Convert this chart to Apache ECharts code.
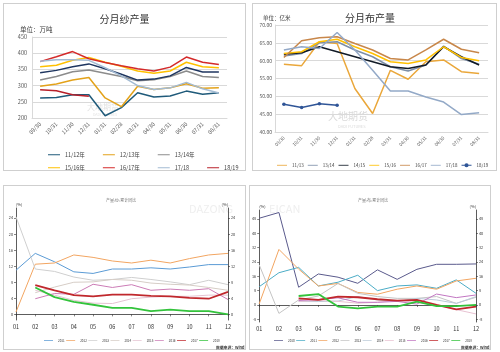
<!DOCTYPE html>
<html lang="zh">
<head>
<meta charset="UTF-8">
<title>纱布产量</title>
<script src="https://cdn.jsdelivr.net/npm/echarts@6/dist/echarts.min.js"></script>
<style>
    html, body { margin: 0; padding: 0; background: #fff; }
    body { width: 500px; height: 352px; position: relative; overflow: hidden; }
    .frame { position: absolute; border: 1px solid #cfcfcf; box-sizing: border-box; }
    .chart { position: absolute; }
    #f1, #c1 { left: 3px; top: 3px; width: 243px; height: 168px; }
    #f2, #c2 { left: 252px; top: 3px; width: 245px; height: 168px; }
    #f3, #c3 { left: 3px; top: 185px; width: 243px; height: 165px; }
    #f4, #c4 { left: 249px; top: 185px; width: 242px; height: 165px; }
</style>
</head>
<body>
<div class="frame" id="f1"></div>
<div class="frame" id="f2"></div>
<div class="frame" id="f3"></div>
<div class="frame" id="f4"></div>
<div class="chart" id="c1"></div>
<div class="chart" id="c2"></div>
<div class="chart" id="c3"></div>
<div class="chart" id="c4"></div>
<script>
    // ---------- 分月纱产量（万吨）----------
    var yarnMonths = ['09/30','10/31','11/30','12/31','01/31','02/28','03/31','04/30','05/31','06/30','07/31','08/31'];
    var yarnNames = ['11/12年','12/13年','13/14年','14/15年','15/16年','16/17年','17/18','18/19'];
    var yarn1112 = [262, 263, 272, 272, 207, 232, 278, 265, 268, 283, 273, 278];
    var yarn1213 = [298, 305, 317, 325, 262, 235, 298, 288, 293, 306, 292, 293];
    var yarn1314 = [317, 328, 343, 348, 338, 328, 315, 318, 328, 345, 328, 325];
    var yarn1415 = [340, 347, 358, 367, 352, 335, 317, 320, 330, 356, 342, 342];
    var yarn1516 = [358, 363, 378, 387, 372, 360, 345, 338, 345, 372, 358, 355];
    var yarn1617 = [374, 389, 405, 383, 371, 361, 352, 345, 357, 388, 372, 365];
    var yarn1718 = [375, 380, 380, 378, 355, 330, 300, 288, 293, 310, 290, 277];
    var yarn1819 = [287, 284, 272, 267];
    var yarnTicks = [200, 450, 50];

    // ---------- 分月布产量（亿米）----------
    var clothMonths = yarnMonths;
    var clothNames = ['11/13','13/14','14/15','15/16','16/17','17/18','18/19'];
    var cloth1113 = [59.0, 58.6, 65.3, 64.8, 52.2, 45.2, 57.3, 54.8, 59.7, 60.2, 56.9, 56.4];
    var cloth1314 = [61.3, 62.0, 65.0, 65.3, 63.0, 61.1, 58.3, 57.1, 58.8, 64.1, 60.6, 59.0];
    var cloth1415 = [61.8, 62.2, 63.9, 62.5, 61.1, 59.7, 58.3, 57.8, 58.8, 63.9, 61.1, 58.8];
    var cloth1516 = [62.0, 62.5, 65.3, 66.0, 63.9, 62.0, 59.7, 59.2, 60.2, 63.9, 60.9, 60.0];
    var cloth1617 = [60.9, 65.6, 66.4, 66.7, 64.8, 63.0, 60.6, 60.2, 63.0, 66.0, 63.2, 62.2];
    var cloth1718 = [63.0, 63.9, 63.4, 67.9, 63.0, 57.3, 51.5, 51.5, 49.8, 48.4, 44.9, 45.4];
    var cloth1819 = [47.8, 46.9, 47.9, 47.5];
    var clothTicks = [40, 70, 5];

    // ---------- 产量:纱:累计同比（%）----------
    var ytdMonths = ['01','02','03','04','05','06','07','08','09','10','11','12'];
    var yarnYoyNames = ['2011','2012','2013','2014','2015','2016','2017','2018'];
    var yoyY2011 = [11.0, 15.2, 13.1, 10.6, 10.2, 11.3, 11.3, 11.6, 11.3, 11.8, 12.4, 12.4];
    var yoyY2012 = [0.6, 12.5, 12.8, 14.8, 14.2, 13.3, 12.8, 13.5, 12.8, 13.9, 14.8, 15.2];
    var yoyY2013 = [24.3, 11.3, 10.7, 9.3, 8.5, 8.7, 9.2, 8.7, 8.1, 7.4, 8.5, 7.4];
    var yoyY2014 = [null, 5.4, 6.8, 8.0, 8.1, 8.7, 8.5, 7.8, 7.5, 7.3, 6.7, 6.0];
    var yoyY2015 = [null, 6.0, 4.8, 3.5, 2.8, 2.7, 3.9, 4.3, 4.5, 4.5, 4.8, 4.8];
    var yoyY2016 = [null, 3.9, 5.2, 5.0, 7.5, 6.7, 7.4, 6.0, 6.3, 6.0, 6.4, 3.7];
    var yoyY2017 = [null, 7.3, 6.0, 4.8, 4.5, 4.9, 4.9, 4.6, 4.5, 4.1, 3.9, 5.6];
    var yoyY2018 = [null, 6.7, 4.3, 3.1, 2.4, 1.6, 1.6, 0.8, 1.2, 0.8, 0.8, 0.0];
    var yarnYoyLabels = [0, 4, 8, 12, 16, 20, 24];

    // ---------- 产量:布:累计同比（%）----------
    var clothYoyNames = ['2010','2011','2012','2013','2014','2015','2016','2017','2018'];
    var yoyC2010 = [48.4, 51.6, 9.9, 17.3, 15.5, 12.1, 19.6, 14.3, 19.9, 22.7, 22.7, 22.9];
    var yoyC2011 = [10.2, 18.0, 21.0, 10.6, 12.7, 16.6, 8.0, 10.6, 11.2, 9.3, 14.0, 6.5];
    var yoyC2012 = [0.6, 31.0, 20.0, 10.6, 12.0, 7.0, 6.0, 8.8, 10.6, 8.8, 13.4, 14.9];
    var yoyC2013 = [22.4, -4.7, 2.8, 5.0, 12.0, 6.5, 4.7, 3.7, 3.7, 4.7, 0.9, 4.3];
    var yoyC2014 = [null, null, 1.9, 1.9, 2.2, 4.7, 2.8, 1.9, 3.7, 2.8, 0.9, 4.7];
    var yoyC2015 = [null, null, 2.0, 2.5, 2.0, 1.0, 1.5, 2.5, 1.5, 0.0, -2.6, -5.0];
    var yoyC2016 = [null, null, 2.5, 3.0, 4.0, 1.5, 1.5, 2.0, 0.5, 6.1, 4.1, 5.6];
    var yoyC2017 = [null, null, 3.7, 2.8, 4.7, 4.3, 3.2, 2.4, 2.8, 0.0, -2.4, -0.9];
    var yoyC2018 = [null, null, 5.0, 6.1, -0.9, -1.9, -0.9, -0.9, 1.9, -0.6, -0.6, 0.0];
    var clothYoyLabels = [-8, 0, 8, 16, 24, 32, 40, 48];

    var FONT = '"Noto Sans CJK SC", "Noto Sans", sans-serif';
    // 图例：细线；带点的线
    var LINE_ICON = 'path://M0,0H12V1H0Z';
    var DOT_ICON = 'path://M0,2.5H12V3.5H0Z M8.5,3A2.5,2.5,0,1,1,3.5,3A2.5,2.5,0,1,1,8.5,3Z';

    function lineSeries(names, datas, colors, widths) {
        var out = [];
        for (var i = 0; i < names.length; i++) {
            out.push({
                name: names[i],
                type: 'line',
                data: datas[i],
                symbol: 'none',
                lineStyle: { color: colors[i], width: widths ? widths[i] : 1.5 },
                itemStyle: { color: colors[i] }
            });
        }
        return out;
    }

    // 图1 分月纱产量
    var chart1 = echarts.init(document.getElementById('c1'));
    var yarnColors = ['#1f5a7a', '#e3a21a', '#8c8c8c', '#1f3660', '#ffc000', '#d42a2a', '#a3bbd3', '#b8202a'];
    var legendText = { fontSize: 5.5, color: '#404040', fontFamily: FONT };
    chart1.setOption({
        animation: false,
        textStyle: { fontFamily: FONT },
        title: [
            { text: '分月纱产量', left: 'center', top: 6, textStyle: { fontSize: 10, fontWeight: 'normal', color: '#333' } },
            { text: '单位：万吨', left: 12, top: 18, textStyle: { fontSize: 6.5, fontWeight: 'normal', color: '#404040' } }
        ],
        grid: { left: 29, right: 19, top: 34, bottom: 53 },
        legend: [
            { data: yarnNames.slice(0, 4), icon: LINE_ICON, left: 40, top: 144, itemWidth: 12, itemHeight: 6, itemGap: 18, textStyle: legendText },
            { data: yarnNames.slice(4), icon: LINE_ICON, left: 40, top: 157, itemWidth: 12, itemHeight: 6, itemGap: 18, textStyle: legendText }
        ],
        xAxis: {
            type: 'category', data: yarnMonths, boundaryGap: true,
            axisLine: { lineStyle: { color: '#d9d9d9' } }, axisTick: { show: false },
            axisLabel: { rotate: 45, interval: 0, fontSize: 5.5, color: '#595959', margin: 5 }
        },
        yAxis: {
            type: 'value', min: yarnTicks[0], max: yarnTicks[1], interval: yarnTicks[2],
            axisLine: { show: true, lineStyle: { color: '#d9d9d9' } },
            axisLabel: { fontSize: 5.5, color: '#595959', margin: 5 },
            splitLine: { lineStyle: { color: '#d9d9d9' } }
        },
        graphic: [
            { type: 'text', left: 84, top: 100, style: { text: '大地期货', fontSize: 8, fill: 'rgba(170,170,170,0.35)', fontFamily: FONT } },
            { type: 'text', left: 90, top: 110, style: { text: 'DADI FUTURES', fontSize: 3.5, fill: 'rgba(170,170,170,0.35)', fontFamily: FONT } }
        ],
        series: lineSeries(yarnNames,
            [yarn1112, yarn1213, yarn1314, yarn1415, yarn1516, yarn1617, yarn1718, yarn1819], yarnColors)
    });

    // 图2 分月布产量
    var chart2 = echarts.init(document.getElementById('c2'));
    var clothColors = ['#eaa73a', '#7d8fa8', '#111a26', '#ffc000', '#c8874a', '#93a9c7', '#2f5597'];
    var s2 = lineSeries(clothNames,
        [cloth1113, cloth1314, cloth1415, cloth1516, cloth1617, cloth1718, cloth1819], clothColors);
    s2[6].symbol = 'circle';
    s2[6].symbolSize = 3.5;
    s2[6].showSymbol = true;
    var clothLegend = clothNames.map(function (n, i) {
        return { name: n, icon: i === clothNames.length - 1 ? DOT_ICON : LINE_ICON };
    });
    chart2.setOption({
        animation: false,
        textStyle: { fontFamily: FONT },
        title: [
            { text: '分月布产量', left: 88, top: 5, textStyle: { fontSize: 10, fontWeight: 'normal', color: '#333' } },
            { text: '单位：亿米', left: 6, top: 7, textStyle: { fontSize: 5.5, fontWeight: 'normal', color: '#404040' } }
        ],
        grid: { left: 23, right: 9, top: 22, bottom: 39 },
        legend: { data: clothLegend, left: 20, top: 155, itemWidth: 10, itemHeight: 5, itemGap: 4, textStyle: { fontSize: 4.5, color: '#404040', fontFamily: FONT } },
        xAxis: {
            type: 'category', data: clothMonths, boundaryGap: true,
            axisLine: { lineStyle: { color: '#d9d9d9' } }, axisTick: { show: false },
            axisLabel: { rotate: 45, interval: 0, fontSize: 4.5, color: '#595959', margin: 5 }
        },
        yAxis: {
            type: 'value', min: clothTicks[0], max: clothTicks[1], interval: clothTicks[2],
            axisLine: { show: true, lineStyle: { color: '#d9d9d9' } },
            axisLabel: { fontSize: 5, color: '#595959', margin: 3, formatter: function (v) { return v.toFixed(2); } },
            splitLine: { lineStyle: { color: '#d9d9d9' } }
        },
        graphic: [
            { type: 'text', left: 76, top: 108, style: { text: '大地期货', fontSize: 10, fill: 'rgba(160,160,160,0.4)', fontFamily: FONT } },
            { type: 'text', left: 86, top: 121, style: { text: 'DADI FUTURES', fontSize: 4, fill: 'rgba(160,160,160,0.4)', fontFamily: FONT } }
        ],
        series: s2
    });

    // 底部两张累计同比图的公共坐标
    function yoyYAxis(min, max, labels, pos) {
        return {
            type: 'value', min: min, max: max, position: pos,
            name: '(%)', nameLocation: 'end', nameGap: 2,
            nameTextStyle: { fontSize: 4, color: '#333', align: pos === 'left' ? 'left' : 'right' },
            axisLine: { show: true, lineStyle: { color: '#333', width: 0.8 } },
            axisTick: { show: true, length: 2, customValues: labels, lineStyle: { color: '#333', width: 0.6 } },
            axisLabel: { customValues: labels, fontSize: 3.8, color: '#333', margin: 3 },
            splitLine: { show: false }
        };
    }
    function yoyXAxis() {
        return {
            type: 'category', data: ytdMonths, boundaryGap: false,
            axisLine: { lineStyle: { color: '#333', width: 0.8 } },
            axisTick: { show: true, length: 2, lineStyle: { color: '#333', width: 0.6 } },
            axisLabel: { fontSize: 5.5, color: '#333', margin: 4 }
        };
    }
    var smallLegend = { fontSize: 3, color: '#333', fontFamily: FONT };

    // 图3 产量:纱:累计同比
    var chart3 = echarts.init(document.getElementById('c3'));
    var yarnYoyColors = ['#5b9bd5', '#f2a561', '#cfcfcf', '#d6cdc6', '#e5c3d2', '#cc7cb6', '#c0282d', '#33c33c'];
    var yarnYoyWidths = [1, 1, 1, 1, 1, 1, 1.8, 1.8];
    chart3.setOption({
        animation: false,
        textStyle: { fontFamily: FONT },
        title: [
            { text: '产量:纱:累计同比', left: 98, top: 8, textStyle: { fontSize: 4, fontWeight: 'normal', color: '#777' } },
            { text: '数据来源：Wind', left: 208, top: 156, textStyle: { fontSize: 3.8, fontWeight: 'bold', color: '#333' } }
        ],
        grid: { left: 13, right: 18, top: 23, bottom: 30 },
        legend: { data: yarnYoyNames, icon: LINE_ICON, left: 36, top: 149, itemWidth: 9, itemHeight: 4, itemGap: 1.5, textStyle: smallLegend },
        xAxis: yoyXAxis(),
        yAxis: [yoyYAxis(-1.4, 26.5, yarnYoyLabels, 'left'), yoyYAxis(-1.4, 26.5, yarnYoyLabels, 'right')],
        graphic: [
            { type: 'text', left: 186, top: 18, style: { text: 'DAZONG', fontSize: 11, fill: 'rgba(200,200,200,0.3)', fontFamily: FONT } }
        ],
        series: lineSeries(yarnYoyNames,
            [yoyY2011, yoyY2012, yoyY2013, yoyY2014, yoyY2015, yoyY2016, yoyY2017, yoyY2018], yarnYoyColors, yarnYoyWidths)
    });

    // 图4 产量:布:累计同比
    var chart4 = echarts.init(document.getElementById('c4'));
    var clothYoyColors = ['#5a5a8c', '#4bacc6', '#f2a561', '#c4c4c4', '#bccbd9', '#e8c2d2', '#c276c2', '#c0282d', '#33c33c'];
    var clothYoyWidths = [1, 1, 1, 1, 1, 1, 1, 1.8, 1.8];
    chart4.setOption({
        animation: false,
        textStyle: { fontFamily: FONT },
        title: [
            { text: '产量:布:累计同比', left: 104, top: 8, textStyle: { fontSize: 4, fontWeight: 'normal', color: '#777' } },
            { text: '数据来源：Wind', left: 207, top: 156, textStyle: { fontSize: 3.8, fontWeight: 'bold', color: '#333' } }
        ],
        grid: { left: 7, right: 15, top: 25, bottom: 28 },
        legend: { data: clothYoyNames, icon: LINE_ICON, left: 20, top: 149, itemWidth: 9, itemHeight: 4, itemGap: 1.5, textStyle: smallLegend },
        xAxis: yoyXAxis(),
        yAxis: [yoyYAxis(-9.5, 53, clothYoyLabels, 'left'), yoyYAxis(-9.5, 53, clothYoyLabels, 'right')],
        graphic: [
            { type: 'text', left: 20, top: 18, style: { text: 'EICAN', fontSize: 11, fill: 'rgba(200,200,200,0.3)', fontFamily: FONT } }
        ],
        series: lineSeries(clothYoyNames,
            [yoyC2010, yoyC2011, yoyC2012, yoyC2013, yoyC2014, yoyC2015, yoyC2016, yoyC2017, yoyC2018], clothYoyColors, clothYoyWidths)
    });
</script>
</body>
</html>
